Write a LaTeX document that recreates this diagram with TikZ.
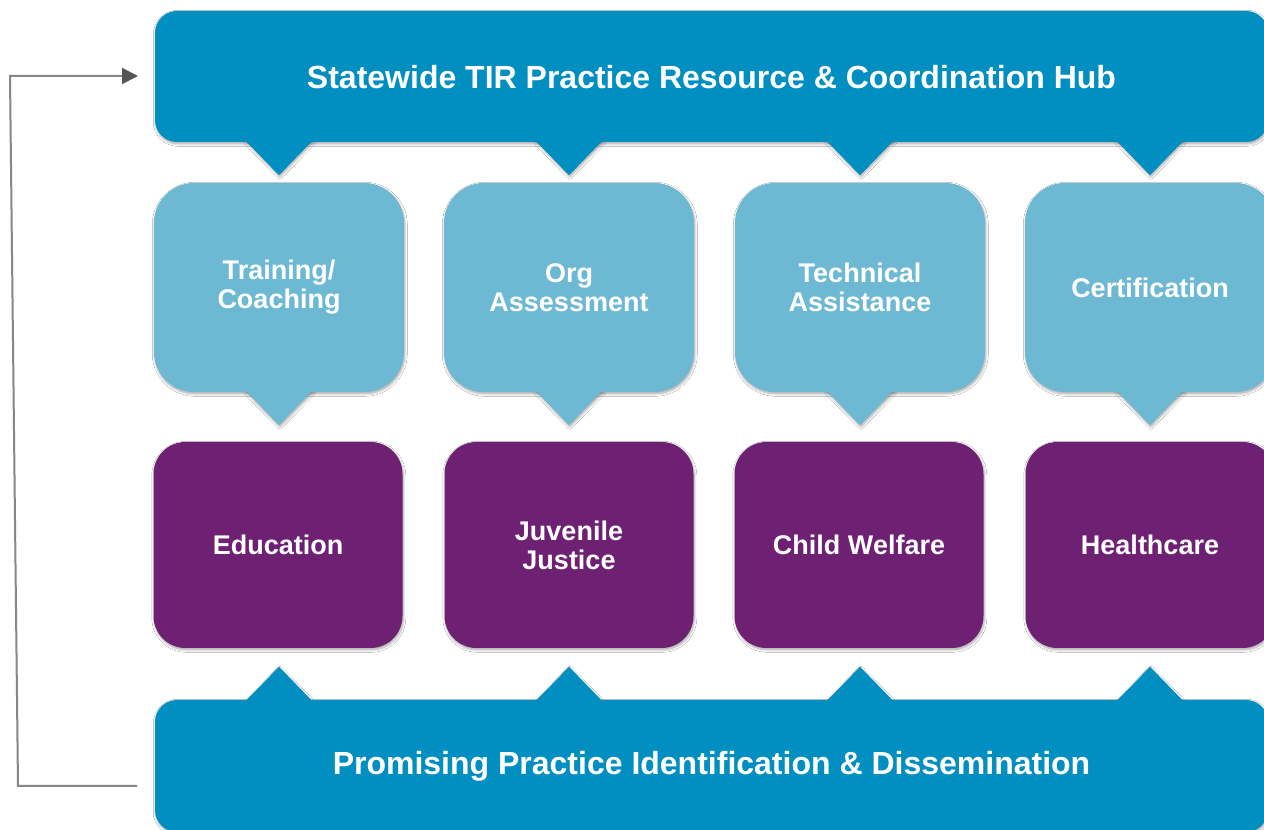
\documentclass[tikz,border=0pt]{standalone}
\usepackage{fontspec}
\setmainfont{Liberation Sans}
\usetikzlibrary{arrows.meta,shadows.blur}
\definecolor{hubblue}{RGB}{0,143,192}
\definecolor{lightblue}{RGB}{109,185,212}
\definecolor{sectorpurple}{RGB}{110,33,114}
\definecolor{linegray}{RGB}{135,135,135}
\definecolor{tipgray}{RGB}{85,85,85}
\tikzset{
  softshadow/.style={blur shadow={shadow xshift=0.8pt, shadow yshift=-1.8pt, shadow blur radius=2.5pt, shadow blur steps=6, shadow opacity=35}},
  bar/.style={fill=hubblue, rounded corners=22pt, text=white, font=\fontsize{32}{36}\selectfont\bfseries, minimum width=1113pt, inner sep=0pt},
  service/.style={fill=lightblue, rounded corners=40pt, minimum width=250pt, minimum height=209pt, inner sep=0pt, text=white, align=center, font=\fontsize{27}{29}\selectfont\bfseries},
  sector/.style={fill=sectorpurple, rounded corners=32pt, minimum width=249pt, minimum height=206pt, inner sep=0pt, text=white, align=center, font=\fontsize{27}{29}\selectfont\bfseries},
  connector/.style={draw=linegray, line width=2pt, -{Triangle[length=16pt,width=16pt,color=tipgray,fill=tipgray]}}
}
\begin{document}
\begin{tikzpicture}[x=1pt,y=1pt]
\useasboundingbox (0,0) rectangle (1264,830);
\fill[white] (0,0) rectangle (1264,830);
% pointer triangles with shadows
\foreach \x in {279,569,860,1150}{
  \fill[hubblue, softshadow] (\x-34,690) -- (\x+34,690) -- (\x,655) -- cycle;
  \fill[lightblue, softshadow] (\x-34,440) -- (\x+34,440) -- (\x,405) -- cycle;
  \fill[hubblue, softshadow] (\x-34,128) -- (\x+34,128) -- (\x,163) -- cycle;
}
% main boxes
\node[bar, softshadow, minimum height=131pt, text depth=0pt] (hub) at (711.5,753.5) {Statewide TIR Practice Resource \& Coordination Hub};
\node[service, softshadow, yshift=-2pt] (training) at (279,544.5) {Training/\\Coaching};
\node[service, softshadow] (assess) at (569,542.5) {Org\\Assessment};
\node[service, softshadow] (techassist) at (860,542.5) {Technical\\Assistance};
\node[service, softshadow] (cert) at (1150,542.5) {Certification};
\node[sector, softshadow] (edu) at (278,285) {Education};
\node[sector, softshadow] (juvenile) at (569,285) {Juvenile\\Justice};
\node[sector, softshadow] (welfare) at (859,285) {Child Welfare};
\node[sector, softshadow] (health) at (1150,285) {Healthcare};
\node[bar, softshadow, minimum height=132pt] (promise) at (711.5,64) {Promising Practice Identification \& Dissemination};
% re-fill pointer triangles on top
\foreach \x in {279,569,860,1150}{
  \fill[hubblue] (\x-34,690) -- (\x+34,690) -- (\x,655) -- cycle;
  \fill[lightblue] (\x-34,440) -- (\x+34,440) -- (\x,405) -- cycle;
  \fill[hubblue] (\x-34,128) -- (\x+34,128) -- (\x,163) -- cycle;
}
% feedback connector
\coordinate (fbStart) at (137,44);
\coordinate (fbLow) at (18,44);
\coordinate (fbHigh) at (10,754);
\coordinate (fbEnd) at (138,754);
\draw[connector] (fbStart) -- (fbLow) -- (fbHigh) -- (fbEnd);
\end{tikzpicture}
\end{document}
